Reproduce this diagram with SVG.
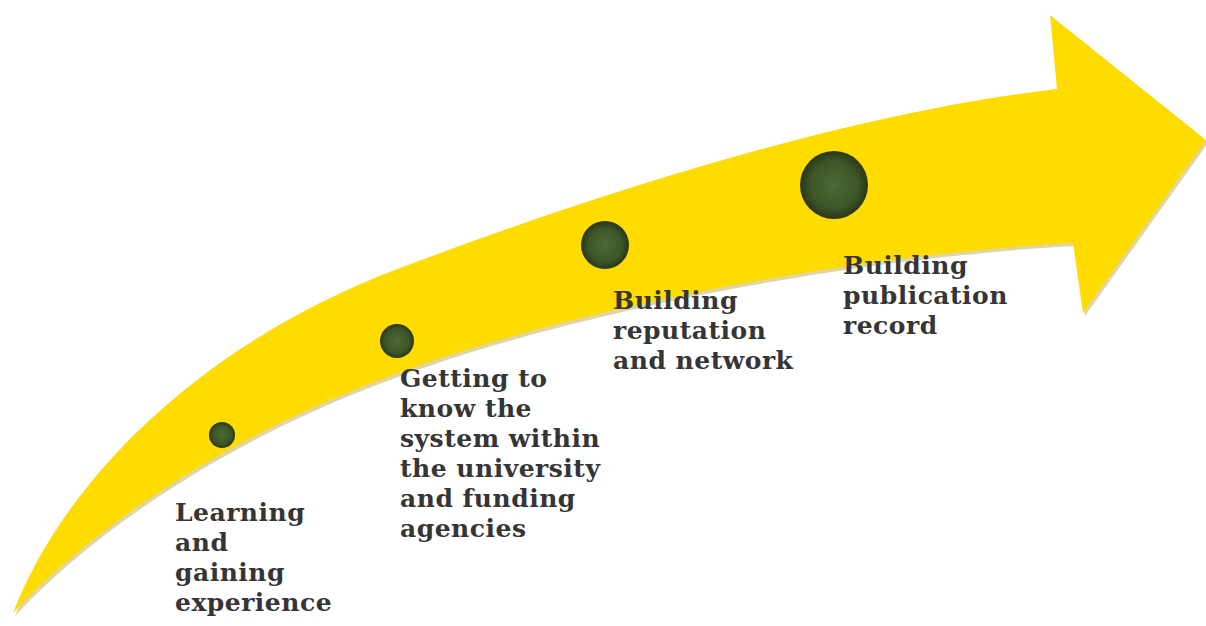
<svg xmlns="http://www.w3.org/2000/svg" width="1206" height="626" viewBox="0 0 1206 626">
<defs>
<radialGradient id="dotg" cx="50%" cy="50%" r="50%">
<stop offset="0%" stop-color="#4b6a33"/>
<stop offset="70%" stop-color="#3c5628"/>
<stop offset="100%" stop-color="#2a3616"/>
</radialGradient>
<style>
.lbl{font-family:"DejaVu Serif","Liberation Serif",serif;font-weight:bold;font-size:25px;letter-spacing:0.5px;fill:#353535}
.dot{fill:url(#dotg)}
</style>
</defs>
<rect width="1206" height="626" fill="#ffffff"/>
<g id="arrow">
<path d="M13,613 C60,490 190,347 400,268 C620,185 860,112 1057,89 L1050,15 L1206,140 L1083,313 L1073,243 C850,255 560,310 380,380 C220,440 90,530 13,613 Z" fill="#b9a23a" opacity="0.45" transform="translate(2,3)"/>
<path d="M13,613 C60,490 190,347 400,268 C620,185 860,112 1057,89 L1050,15 L1206,140 L1083,313 L1073,243 C850,255 560,310 380,380 C220,440 90,530 13,613 Z" fill="#fedc00"/>
</g>
<g id="node1">
<circle class="dot" cx="222" cy="435" r="13"/>
<text class="lbl" x="175" y="521">Learning</text>
<text class="lbl" x="175" y="551">and</text>
<text class="lbl" x="175" y="581">gaining</text>
<text class="lbl" x="175" y="611">experience</text>
</g>
<g id="node2">
<circle class="dot" cx="397" cy="341" r="17"/>
<text class="lbl" x="400" y="387">Getting to</text>
<text class="lbl" x="400" y="417">know the</text>
<text class="lbl" x="400" y="447">system within</text>
<text class="lbl" x="400" y="477">the university</text>
<text class="lbl" x="400" y="507">and funding</text>
<text class="lbl" x="400" y="537">agencies</text>
</g>
<g id="node3">
<circle class="dot" cx="605" cy="245" r="24"/>
<text class="lbl" x="613" y="309">Building</text>
<text class="lbl" x="613" y="339">reputation</text>
<text class="lbl" x="613" y="369">and network</text>
</g>
<g id="node4">
<circle class="dot" cx="834" cy="185" r="34"/>
<text class="lbl" x="843" y="274">Building</text>
<text class="lbl" x="843" y="304">publication</text>
<text class="lbl" x="843" y="334">record</text>
</g>
<g id="connectors"></g>
</svg>
